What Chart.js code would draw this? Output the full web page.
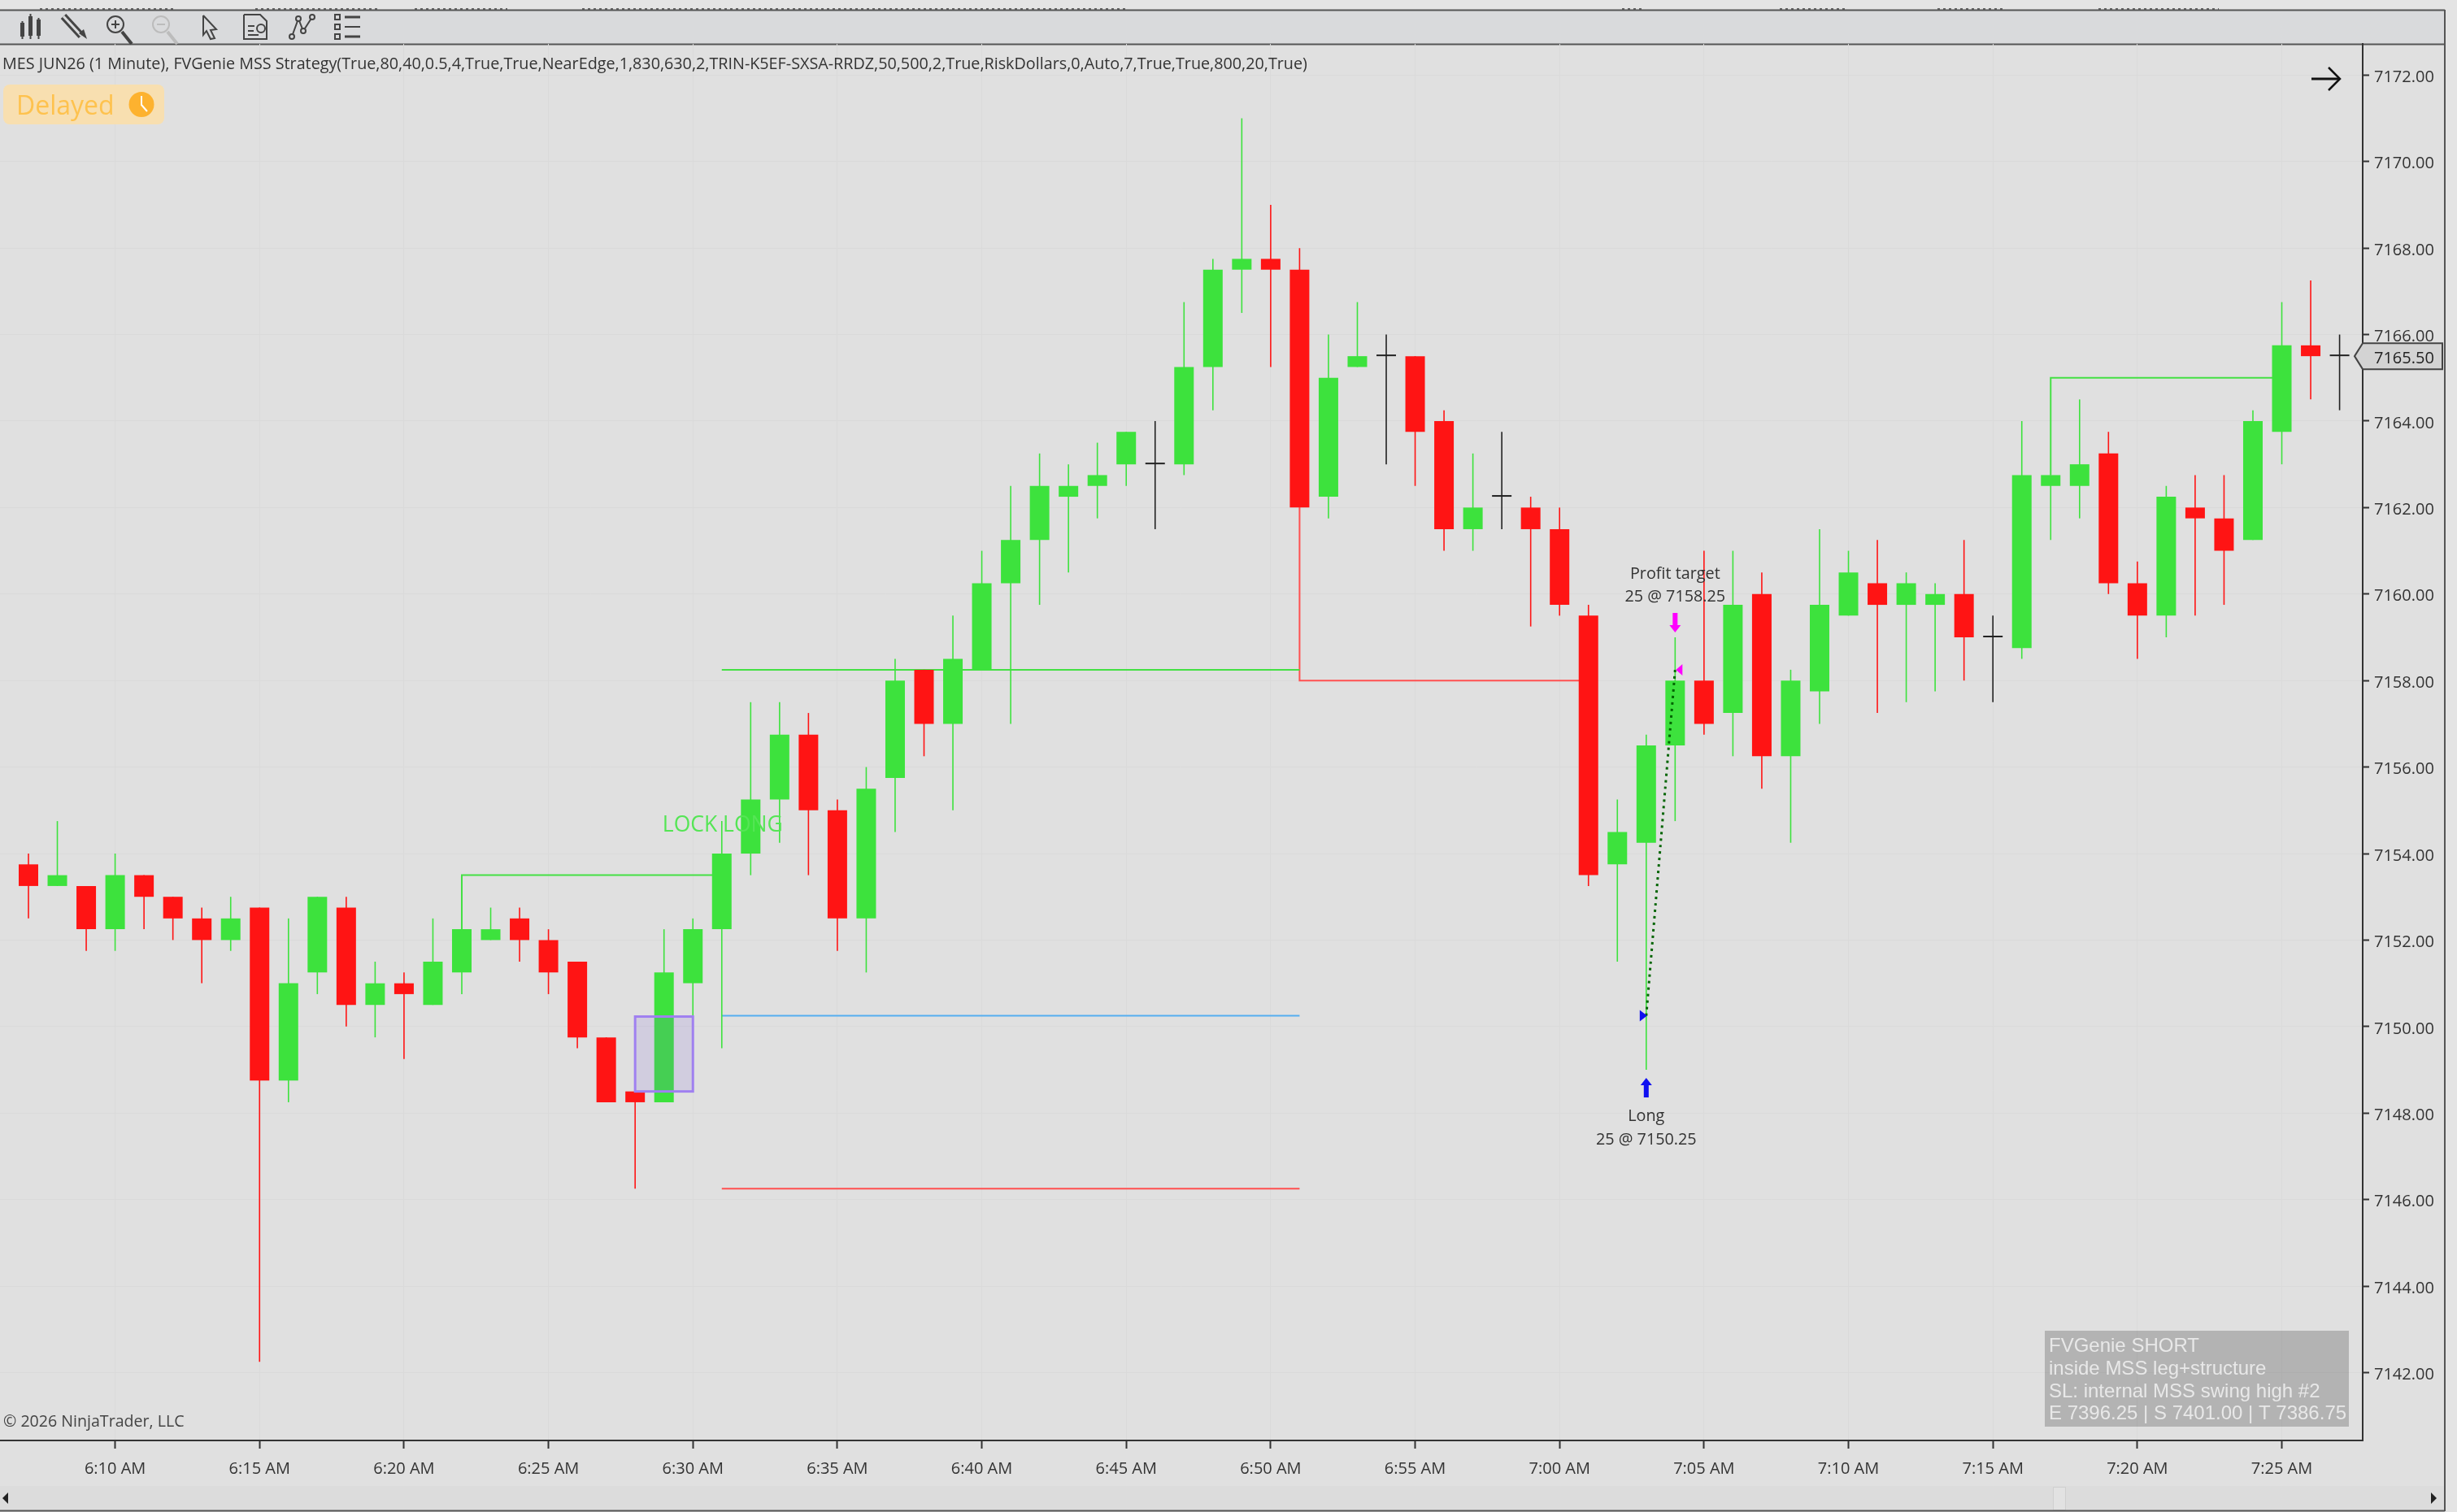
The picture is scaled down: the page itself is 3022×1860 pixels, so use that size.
<!DOCTYPE html>
<html>
<head>
<meta charset="utf-8">
<title>MES JUN26 (1 Minute)</title>
<script src="https://cdn.jsdelivr.net/npm/chart.js@4/dist/chart.umd.min.js"></script>
<style>
  html, body { margin: 0; padding: 0; background: #e4e4e4; }
  canvas { display: block; }
</style>
</head>
<body>
<canvas id="priceChart" width="3022" height="1860"></canvas>
<script>
// One minute bars
const times = [
  '6:07 AM', '6:08 AM', '6:09 AM', '6:10 AM', '6:11 AM', '6:12 AM', '6:13 AM', '6:14 AM', '6:15 AM',
  '6:16 AM', '6:17 AM', '6:18 AM', '6:19 AM', '6:20 AM', '6:21 AM', '6:22 AM', '6:23 AM', '6:24 AM',
  '6:25 AM', '6:26 AM', '6:27 AM', '6:28 AM', '6:29 AM', '6:30 AM', '6:31 AM', '6:32 AM', '6:33 AM',
  '6:34 AM', '6:35 AM', '6:36 AM', '6:37 AM', '6:38 AM', '6:39 AM', '6:40 AM', '6:41 AM', '6:42 AM',
  '6:43 AM', '6:44 AM', '6:45 AM', '6:46 AM', '6:47 AM', '6:48 AM', '6:49 AM', '6:50 AM', '6:51 AM',
  '6:52 AM', '6:53 AM', '6:54 AM', '6:55 AM', '6:56 AM', '6:57 AM', '6:58 AM', '6:59 AM', '7:00 AM',
  '7:01 AM', '7:02 AM', '7:03 AM', '7:04 AM', '7:05 AM', '7:06 AM', '7:07 AM', '7:08 AM', '7:09 AM',
  '7:10 AM', '7:11 AM', '7:12 AM', '7:13 AM', '7:14 AM', '7:15 AM', '7:16 AM', '7:17 AM', '7:18 AM',
  '7:19 AM', '7:20 AM', '7:21 AM', '7:22 AM', '7:23 AM', '7:24 AM', '7:25 AM', '7:26 AM', '7:27 AM',
];
const opens = [
  7153.75, 7153.25, 7153.25, 7152.25, 7153.5, 7153, 7152.5, 7152, 7152.75,
  7148.75, 7151.25, 7152.75, 7150.5, 7151, 7150.5, 7151.25, 7152, 7152.5,
  7152, 7151.5, 7149.75, 7148.5, 7148.25, 7151, 7152.25, 7154, 7155.25,
  7156.75, 7155, 7152.5, 7155.75, 7158.25, 7157, 7158.25, 7160.25, 7161.25,
  7162.25, 7162.5, 7163, 7163, 7163, 7165.25, 7167.5, 7167.75, 7167.5,
  7162.25, 7165.25, 7165.5, 7165.5, 7164, 7161.5, 7162.25, 7162, 7161.5,
  7159.5, 7153.75, 7154.25, 7156.5, 7158, 7157.25, 7160, 7156.25, 7157.75,
  7159.5, 7160.25, 7159.75, 7159.75, 7160, 7159, 7158.75, 7162.5, 7162.5,
  7163.25, 7160.25, 7159.5, 7162, 7161.75, 7161.25, 7163.75, 7165.75, 7165.5,
];
const highs = [
  7154, 7154.75, 7153.25, 7154, 7153.5, 7153, 7152.75, 7153, 7152.75,
  7152.5, 7153, 7153, 7151.5, 7151.25, 7152.5, 7152.25, 7152.75, 7152.75,
  7152.25, 7151.5, 7149.75, 7148.5, 7152.25, 7152.5, 7154.75, 7157.5, 7157.5,
  7157.25, 7155.25, 7156, 7158.5, 7158.25, 7159.5, 7161, 7162.5, 7163.25,
  7163, 7163.5, 7163.75, 7164, 7166.75, 7167.75, 7171, 7169, 7168,
  7166, 7166.75, 7166, 7165.5, 7164.25, 7163.25, 7163.75, 7162.25, 7162,
  7159.75, 7155.25, 7156.75, 7159, 7161, 7161, 7160.5, 7158.25, 7161.5,
  7161, 7161.25, 7160.5, 7160.25, 7161.25, 7159.5, 7164, 7162.75, 7164.5,
  7163.75, 7160.75, 7162.5, 7162.75, 7162.75, 7164.25, 7166.75, 7167.25, 7166,
];
const lows = [
  7152.5, 7153.25, 7151.75, 7151.75, 7152.25, 7152, 7151, 7151.75, 7142.25,
  7148.25, 7150.75, 7150, 7149.75, 7149.25, 7150.5, 7150.75, 7152, 7151.5,
  7150.75, 7149.5, 7148.25, 7146.25, 7148.25, 7150.25, 7149.5, 7153.5, 7154.25,
  7153.5, 7151.75, 7151.25, 7154.5, 7156.25, 7155, 7158.25, 7157, 7159.75,
  7160.5, 7161.75, 7162.5, 7161.5, 7162.75, 7164.25, 7166.5, 7165.25, 7162,
  7161.75, 7165.25, 7163, 7162.5, 7161, 7161, 7161.5, 7159.25, 7159.5,
  7153.25, 7151.5, 7149, 7154.75, 7156.75, 7156.25, 7155.5, 7154.25, 7157,
  7159.5, 7157.25, 7157.5, 7157.75, 7158, 7157.5, 7158.5, 7161.25, 7161.75,
  7160, 7158.5, 7159, 7159.5, 7159.75, 7161.25, 7163, 7164.5, 7164.25,
];
const closes = [
  7153.25, 7153.5, 7152.25, 7153.5, 7153, 7152.5, 7152, 7152.5, 7148.75,
  7151, 7153, 7150.5, 7151, 7150.75, 7151.5, 7152.25, 7152.25, 7152,
  7151.25, 7149.75, 7148.25, 7148.25, 7151.25, 7152.25, 7154, 7155.25, 7156.75,
  7155, 7152.5, 7155.5, 7158, 7157, 7158.5, 7160.25, 7161.25, 7162.5,
  7162.5, 7162.75, 7163.75, 7163, 7165.25, 7167.5, 7167.75, 7167.5, 7162,
  7165, 7165.5, 7165.5, 7163.75, 7161.5, 7162, 7162.25, 7161.5, 7159.75,
  7153.5, 7154.5, 7156.5, 7158, 7157, 7159.75, 7156.25, 7158, 7159.75,
  7160.5, 7159.75, 7160.25, 7160, 7159, 7159, 7162.75, 7162.75, 7163,
  7160.25, 7159.5, 7162.25, 7161.75, 7161, 7164, 7165.75, 7165.5, 7165.5,
];

// Axis ticks
const timeTicks = [
  '6:10 AM', '6:15 AM', '6:20 AM', '6:25 AM', '6:30 AM', '6:35 AM', '6:40 AM', '6:45 AM',
  '6:50 AM', '6:55 AM', '7:00 AM', '7:05 AM', '7:10 AM', '7:15 AM', '7:20 AM', '7:25 AM',
];
const priceTicks = [
  7142, 7144, 7146, 7148, 7150, 7152, 7154, 7156, 7158, 7160, 7162, 7164, 7166, 7168, 7170, 7172,
];

// Strategy levels drawn on the chart
const lockTimes = ['6:22 AM', '6:22 AM', '6:31 AM'];
const lockPrices = [7152.25, 7153.5, 7153.5];
const targetTimes = ['6:31 AM', '6:51 AM'];
const targetPrices = [7158.25, 7158.25];
const entryLevelTimes = ['6:31 AM', '6:51 AM'];
const entryLevelPrices = [7150.25, 7150.25];
const stopTimes = ['6:31 AM', '6:51 AM'];
const stopPrices = [7146.25, 7146.25];
const breakTimes = ['6:51 AM', '6:51 AM', '7:01 AM'];
const breakPrices = [7162, 7158, 7158];
const swingTimes = ['7:17 AM', '7:17 AM', '7:25 AM'];
const swingPrices = [7162.75, 7165, 7165];
const tradeTimes = ['7:03 AM', '7:04 AM'];
const tradePrices = [7150.25, 7158.25];
const gapTimes = ['6:28 AM', '6:30 AM'];
const gapPrices = [7148.5, 7150.25];
const lastPrice = 7165.5;

const GREEN = '#3de23d';
const RED = '#ff1414';
const DARK = '#333333';
const FONT = '"Open Sans"';

function toMinutes(label) {
  const parts = label.split(/[: ]/);
  return Number(parts[0]) * 60 + Number(parts[1]);
}

function points(xs, ys) {
  return xs.map((t, i) => ({ x: toMinutes(t), y: ys[i] }));
}

function barColor(i) {
  if (closes[i] > opens[i]) return GREEN;
  if (closes[i] < opens[i]) return RED;
  return '#222222';
}

function levelLine(xs, ys, color) {
  return {
    type: 'line',
    data: points(xs, ys),
    borderColor: color,
    borderWidth: 2,
    pointRadius: 0,
    tension: 0,
    order: 3,
  };
}

function text(ctx, str, x, y, font, color, align) {
  ctx.font = font;
  ctx.fillStyle = color;
  ctx.textAlign = align || 'left';
  ctx.textBaseline = 'middle';
  ctx.fillText(str, x, y);
}

function strokePath(ctx, pts, color, width) {
  ctx.beginPath();
  pts.forEach((p, i) => (i ? ctx.lineTo(p[0], p[1]) : ctx.moveTo(p[0], p[1])));
  ctx.strokeStyle = color;
  ctx.lineWidth = width;
  ctx.stroke();
}

function fillPath(ctx, pts, color) {
  ctx.beginPath();
  pts.forEach((p, i) => (i ? ctx.lineTo(p[0], p[1]) : ctx.moveTo(p[0], p[1])));
  ctx.closePath();
  ctx.fillStyle = color;
  ctx.fill();
}

function drawMagnifier(ctx, cx, cy, color, plus) {
  ctx.beginPath();
  ctx.arc(cx, cy, 10, 0, Math.PI * 2);
  ctx.strokeStyle = color;
  ctx.lineWidth = 2;
  ctx.stroke();
  strokePath(ctx, [[cx - 5, cy], [cx + 5, cy]], color, 2);
  if (plus) strokePath(ctx, [[cx, cy - 5], [cx, cy + 5]], color, 2);
  strokePath(ctx, [[cx + 8, cy + 9], [cx + 20, cy + 24]], color, 4);
}

function drawToolbar(ctx) {
  const c = '#444444';
  // candles icon
  ctx.fillStyle = c;
  ctx.fillRect(25, 28, 5, 17);
  strokePath(ctx, [[27.5, 26], [27.5, 48]], c, 2);
  ctx.fillRect(35, 20, 5, 24);
  strokePath(ctx, [[37.5, 17], [37.5, 48]], c, 2);
  ctx.fillRect(45, 24, 5, 20);
  strokePath(ctx, [[47.5, 22], [47.5, 48]], c, 2);
  // pencil
  strokePath(ctx, [[78, 20], [100, 44]], c, 9);
  strokePath(ctx, [[78, 20], [100, 44]], '#d9dadc', 3);
  fillPath(ctx, [[97, 41], [107, 48], [103, 36]], c);
  drawMagnifier(ctx, 142, 30, c, true);
  drawMagnifier(ctx, 198, 30, '#bcbcbc', false);
  // cursor
  strokePath(ctx, [[250, 19], [266, 36], [259, 37], [264, 47], [259, 48], [254, 38], [250, 43], [250, 19]], c, 2);
  // document
  strokePath(ctx, [[300, 18], [320, 18], [328, 26], [328, 48], [300, 48], [300, 18]], c, 2);
  strokePath(ctx, [[305, 32], [313, 32]], c, 2);
  strokePath(ctx, [[305, 38], [312, 38]], c, 2);
  strokePath(ctx, [[305, 43], [318, 43]], c, 2);
  ctx.beginPath();
  ctx.arc(321, 35, 5, 0, Math.PI * 2);
  ctx.strokeStyle = c;
  ctx.stroke();
  // line tool
  strokePath(ctx, [[359, 45], [367, 23], [373, 38], [384, 21]], c, 2);
  [[359, 45], [367, 23], [373, 38], [384, 21]].forEach((p) => {
    ctx.beginPath();
    ctx.arc(p[0], p[1], 3, 0, Math.PI * 2);
    ctx.fillStyle = '#d9dadc';
    ctx.fill();
    ctx.stroke();
  });
  // list
  [21, 33, 45].forEach((y, i) => {
    ctx.strokeStyle = c;
    ctx.lineWidth = 2;
    ctx.strokeRect(412, y - 3, 6, 6);
    strokePath(ctx, [[424, y], [443, y]], c, i === 1 ? 2 : 3);
  });
}

function drawBackdrop(ctx) {
  ctx.fillStyle = '#e4e4e4';
  ctx.fillRect(0, 0, 3022, 1860);
  ctx.fillStyle = '#e0e0e0';
  ctx.fillRect(0, 54, 3007, 1804);
  // clipped window tabs above the toolbar
  ctx.save();
  ctx.setLineDash([3, 4]);
  [[49, 217], [314, 466], [510, 624], [716, 1388], [1995, 2020], [2189, 2269], [2383, 2463], [2581, 2729]]
    .forEach((s) => strokePath(ctx, [[s[0], 11], [s[1], 11]], '#666666', 2));
  ctx.restore();
  ctx.fillStyle = '#d9dadc';
  ctx.fillRect(0, 13, 3007, 41);
  strokePath(ctx, [[0, 12.5], [3007, 12.5]], '#555555', 2);
  strokePath(ctx, [[0, 54.5], [3007, 54.5]], '#555555', 2);
  drawToolbar(ctx);
  // scrollbar
  ctx.fillStyle = '#dcdcdc';
  ctx.fillRect(0, 1828, 3007, 30);
  ctx.fillStyle = '#e2e2e2';
  ctx.fillRect(2525, 1829, 16, 29);
  ctx.strokeStyle = '#cfcfcf';
  ctx.lineWidth = 1;
  ctx.strokeRect(2525.5, 1829.5, 15, 28);
  fillPath(ctx, [[10, 1836], [10, 1850], [3, 1843]], '#222222');
  fillPath(ctx, [[2990, 1836], [2990, 1850], [2997, 1843]], '#222222');
  strokePath(ctx, [[0, 1858.5], [3007, 1858.5]], '#555555', 2);
  strokePath(ctx, [[3007, 12], [3007, 1859]], '#555555', 2);
}

function drawOverlays(ctx, chart) {
  const xs = chart.scales.x;
  const ys = chart.scales.y;
  const px = (t) => xs.getPixelForValue(toMinutes(t));
  const py = (v) => ys.getPixelForValue(v);

  // FVG box
  const bx = px(gapTimes[0]);
  const bw = px(gapTimes[1]) - bx;
  const by = py(gapPrices[1]) + 1;
  const bh = py(gapPrices[0]) - by;
  ctx.fillStyle = 'rgba(120, 90, 220, 0.14)';
  ctx.fillRect(bx, by, bw, bh);
  ctx.strokeStyle = '#a080f0';
  ctx.lineWidth = 3;
  ctx.strokeRect(bx, by, bw, bh);

  text(ctx, 'LOCK LONG', px('6:31 AM') + 1, 1015, '26.5px ' + FONT, '#55e555', 'center');

  // trade markers
  const ex = px(tradeTimes[0]);
  const ey = py(tradePrices[0]);
  const tx = px(tradeTimes[1]);
  const ty = py(tradePrices[1]);
  fillPath(ctx, [[ex - 8, ey - 7], [ex + 1, ey], [ex - 8, ey + 7]], '#1010f0');
  fillPath(ctx, [[tx + 9, ty - 7], [tx + 1, ty], [tx + 9, ty + 7]], '#ff00ff');

  const upTop = py(lows[times.indexOf(tradeTimes[0])]) + 10;
  fillPath(ctx, [[ex, upTop], [ex + 7, upTop + 9], [ex + 3, upTop + 9], [ex + 3, upTop + 24],
    [ex - 3, upTop + 24], [ex - 3, upTop + 9], [ex - 7, upTop + 9]], '#1010f0');
  const dnEnd = py(highs[times.indexOf(tradeTimes[1])]) - 6;
  fillPath(ctx, [[tx, dnEnd], [tx + 7, dnEnd - 9], [tx + 3, dnEnd - 9], [tx + 3, dnEnd - 24],
    [tx - 3, dnEnd - 24], [tx - 3, dnEnd - 9], [tx - 7, dnEnd - 9]], '#ff00ff');

  const labelFont = '19.8px ' + FONT;
  text(ctx, 'Long', ex, 1373, labelFont, '#333333', 'center');
  text(ctx, '25 @ 7150.25', ex, 1402, labelFont, '#333333', 'center');
  text(ctx, 'Profit target', tx, 706, labelFont, '#333333', 'center');
  text(ctx, '25 @ 7158.25', tx, 734, labelFont, '#333333', 'center');

  // header text
  text(ctx, 'MES JUN26 (1 Minute), FVGenie MSS Strategy(True,80,40,0.5,4,True,True,NearEdge,1,830,630,2,TRIN-K5EF-SXSA-RRDZ,50,500,2,True,RiskDollars,0,Auto,7,True,True,800,20,True)',
    3, 79, '19.75px ' + FONT, '#333333');
  text(ctx, '\u00a9 2026 NinjaTrader, LLC', 4, 1749, '19.6px ' + FONT, '#444444');

  // delayed badge
  ctx.beginPath();
  ctx.roundRect(4, 104, 198, 49, 8);
  ctx.fillStyle = '#f8dfb0';
  ctx.fill();
  text(ctx, 'Delayed', 20, 132, '32px ' + FONT, '#fec24e');
  ctx.beginPath();
  ctx.arc(174, 128.5, 15.5, 0, Math.PI * 2);
  ctx.fillStyle = '#fdb22f';
  ctx.fill();
  strokePath(ctx, [[174, 118], [174, 129], [181, 137]], '#ffffff', 2);

  // right side arrow
  strokePath(ctx, [[2843, 97], [2877, 97]], '#111111', 3);
  strokePath(ctx, [[2864, 83], [2878, 97], [2864, 111]], '#111111', 2.5);

  // last price tag
  const ly = py(lastPrice);
  const tag = [[2896, ly], [2906, ly - 16], [3004, ly - 16], [3004, ly + 16], [2906, ly + 16]];
  fillPath(ctx, tag, '#d3d3d3');
  ctx.strokeStyle = '#444444';
  ctx.lineWidth = 2;
  ctx.stroke();
  text(ctx, lastPrice.toFixed(2), 2920, ly + 3, '20px ' + FONT, '#222222');

  // signal box
  ctx.fillStyle = 'rgba(0, 0, 0, 0.2)';
  ctx.fillRect(2515, 1637, 374, 118);
  const boxFont = '24px "Liberation Sans"';
  const boxColor = '#e8e8e8';
  text(ctx, 'FVGenie SHORT', 2520, 1656, boxFont, boxColor);
  text(ctx, 'inside MSS leg+structure', 2520, 1684, boxFont, boxColor);
  text(ctx, 'SL: internal MSS swing high #2', 2520, 1712, boxFont, boxColor);
  text(ctx, 'E 7396.25 | S 7401.00 | T 7386.75', 2520, 1739, boxFont, boxColor);
}

const chromePlugin = {
  id: 'chrome',
  beforeDraw(chart) {
    drawBackdrop(chart.ctx);
  },
  afterDraw(chart) {
    drawOverlays(chart.ctx, chart);
  },
};

const ctx = document.getElementById('priceChart').getContext('2d');

const priceChart = new Chart(ctx, {
  data: {
    datasets: [
      levelLine(lockTimes, lockPrices, '#44e044'),
      levelLine(targetTimes, targetPrices, '#44e044'),
      levelLine(entryLevelTimes, entryLevelPrices, '#55aef0'),
      levelLine(stopTimes, stopPrices, '#ff5050'),
      levelLine(breakTimes, breakPrices, '#ff5050'),
      levelLine(swingTimes, swingPrices, '#44e044'),
      {
        // wicks
        type: 'bar',
        data: times.map((t, i) => ({ x: toMinutes(t), y: [lows[i], highs[i]] })),
        backgroundColor: times.map((t, i) => barColor(i)),
        barThickness: 1.6,
        inflateAmount: 0,
        grouped: false,
        order: 2,
      },
      {
        // bodies
        type: 'bar',
        data: times.map((t, i) => ({ x: toMinutes(t), y: [opens[i], closes[i]] })),
        backgroundColor: times.map((t, i) => barColor(i)),
        barThickness: 24,
        inflateAmount: 0,
        minBarLength: 2,
        grouped: false,
        order: 1,
      },
      {
        // entry to exit
        type: 'line',
        data: points(tradeTimes, tradePrices),
        borderColor: '#006400',
        borderWidth: 3,
        borderDash: [3, 5],
        pointRadius: 0,
        order: 0,
      },
    ],
  },
  options: {
    responsive: false,
    animation: false,
    devicePixelRatio: 1,
    layout: { padding: { top: 54, left: 0, right: 0, bottom: 0 } },
    plugins: {
      legend: { display: false },
      tooltip: { enabled: false },
    },
    scales: {
      x: {
        type: 'linear',
        offset: false,
        min: 366.015,
        max: 447.8,
        afterBuildTicks: (scale) => { scale.ticks = timeTicks.map((t) => ({ value: toMinutes(t) })); },
        afterFit: (scale) => { scale.height = 88; },
        ticks: {
          callback: (value, index) => timeTicks[index],
          autoSkip: false,
          maxRotation: 0,
          color: '#333333',
          padding: 13,
          font: { family: 'Open Sans', size: 20 },
        },
        grid: { offset: false, color: '#dadada', lineWidth: 1, tickColor: DARK, tickLength: 10, tickWidth: 2 },
        border: { color: DARK, width: 2 },
      },
      y: {
        position: 'right',
        min: 7140.43,
        max: 7172.72,
        afterBuildTicks: (scale) => { scale.ticks = priceTicks.map((p) => ({ value: p })); },
        afterFit: (scale) => { scale.width = 116; },
        ticks: {
          callback: (value) => value.toFixed(2),
          autoSkip: false,
          color: '#333333',
          padding: 6,
          font: { family: 'Open Sans', size: 20 },
        },
        // labels sit a little below their tick in the original
        afterTickToLabelConversion: (scale) => { scale.options.ticks.labelOffset = 3; },
        grid: { color: '#dadada', lineWidth: 1, tickColor: DARK, tickLength: 8, tickWidth: 2 },
        border: { color: DARK, width: 2 },
      },
    },
  },
  plugins: [chromePlugin],
});
</script>
</body>
</html>
